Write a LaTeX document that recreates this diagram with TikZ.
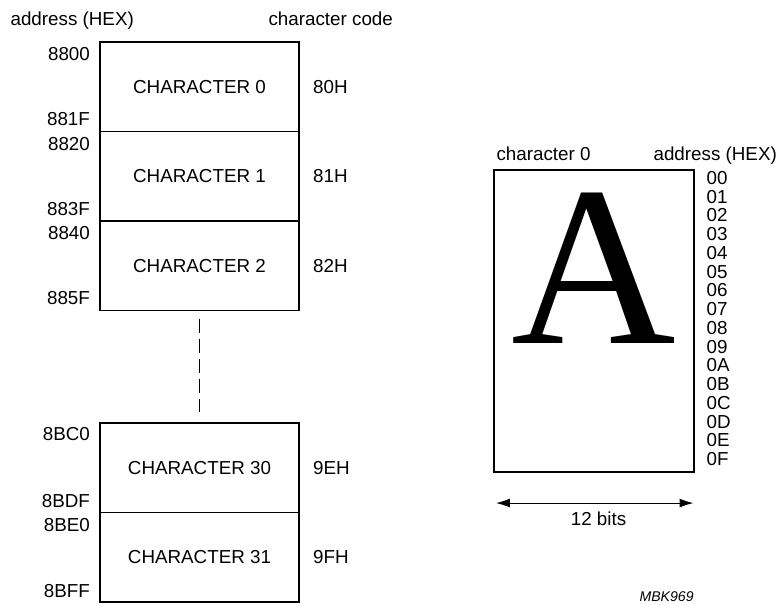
\documentclass[tikz,border=0pt]{standalone}
\usepackage{fontspec}
\setmainfont{Liberation Sans}
\newfontfamily\glyphfont{Liberation Serif}
\usetikzlibrary{arrows.meta}

\begin{document}
\begin{tikzpicture}[x=1pt,y=-1pt,line width=1.1pt]
\tikzstyle{every node}+=[inner sep=0pt,font=\fontsize{18.8}{22}\selectfont]
\tikzstyle{charbox}=[draw=black,minimum width=199pt,minimum height=89.5pt]
\tikzstyle{addr}=[anchor=east]
\tikzstyle{code}=[anchor=west]
\tikzstyle{row}=[anchor=west]
\useasboundingbox (0,0) rectangle (777,605);
\node (hdraddr) [anchor=base west] at (10,25) {address (HEX)};
\node (hdrcode) [anchor=base west] at (268,25) {character code};
\node (c0) [charbox] at (199.5,86.75) {CHARACTER 0};
\node (c1) [charbox] at (199.5,176.25) {CHARACTER 1};
\node (c2) [charbox] at (199.5,265.75) {CHARACTER 2};
\node (c30) [charbox] at (199.5,467.75) {CHARACTER 30};
\node (c31) [charbox] at (199.5,557.25) {CHARACTER 31};
\draw [black,dash pattern=on 14pt off 6pt,shorten <=7.5pt,shorten >=10pt] (c2) -- (c30);
\node (a0s) [addr] at ([shift={(-9,13)}]c0.north west) {8800};
\node (a0e) [addr] at ([shift={(-9,-13)}]c0.south west) {881F};
\node (a1s) [addr] at ([shift={(-9,13)}]c1.north west) {8820};
\node (a1e) [addr] at ([shift={(-9,-13)}]c1.south west) {883F};
\node (a2s) [addr] at ([shift={(-9,13)}]c2.north west) {8840};
\node (a2e) [addr] at ([shift={(-9,-13)}]c2.south west) {885F};
\node (a30s) [addr] at ([shift={(-9,12)}]c30.north west) {8BC0};
\node (a30e) [addr] at ([shift={(-9,-12)}]c30.south west) {8BDF};
\node (a31s) [addr] at ([shift={(-9,13)}]c31.north west) {8BE0};
\node (a31e) [addr] at ([shift={(-9,-12)}]c31.south west) {8BFF};
\node (k0) [code] at ([xshift=13pt]c0.east) {80H};
\node (k1) [code] at ([xshift=13pt]c1.east) {81H};
\node (k2) [code] at ([xshift=13pt]c2.east) {82H};
\node (k30) [code] at ([xshift=13pt]c30.east) {9EH};
\node (k31) [code] at ([xshift=13pt]c31.east) {9FH};
\node (glyph) [draw=black,minimum width=200pt,minimum height=302pt] at (594,321) {};
\node (bigA) [anchor=base,font=\glyphfont\fontsize{228}{230}\selectfont] at (594,343) {A};
\node (hdrchar) [anchor=base west] at (496,160) {character 0};
\node (hdrrow) [anchor=base west] at (653,160) {address (HEX)};
\node (r0) [row] at (706,178) {00};
\node (r1) [row] at (706,196.75) {01};
\node (r2) [row] at (706,215.5) {02};
\node (r3) [row] at (706,234.25) {03};
\node (r4) [row] at (706,253) {04};
\node (r5) [row] at (706,271.75) {05};
\node (r6) [row] at (706,290.5) {06};
\node (r7) [row] at (706,309.25) {07};
\node (r8) [row] at (706,328) {08};
\node (r9) [row] at (706,346.75) {09};
\node (rA) [row] at (706,365.5) {0A};
\node (rB) [row] at (706,384.25) {0B};
\node (rC) [row] at (706,403) {0C};
\node (rD) [row] at (706,421.75) {0D};
\node (rE) [row] at (706,440.5) {0E};
\node (rF) [row] at (706,459.25) {0F};
\coordinate (wl) at ([shift={(2.5,30.5)}]glyph.south west);
\coordinate (wr) at ([shift={(-1,30.5)}]glyph.south east);
\draw [black,{Latex[length=14pt,width=9pt]}-{Latex[length=14pt,width=9pt]}] (wl) -- (wr);
\node (bits) at (598.5,518.5) {12 bits};
\node (tag) [anchor=west,font=\itshape\fontsize{14.1}{16}\selectfont] at (639,596.7) {MBK969};
\end{tikzpicture}
\end{document}
